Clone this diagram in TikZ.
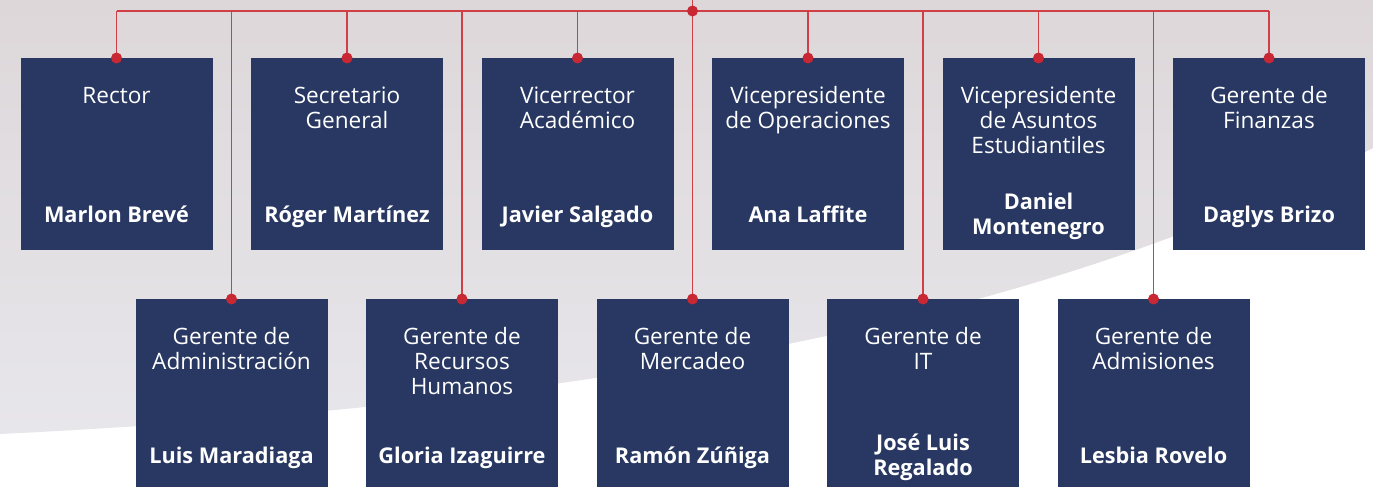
\documentclass[tikz,border=0pt]{standalone}
\usepackage{fontspec}
\setmainfont{Open Sans}
\definecolor{navy}{RGB}{40,56,98}
\definecolor{wirered}{RGB}{208,62,70}
\definecolor{dotred}{RGB}{200,40,52}
\definecolor{bgA}{RGB}{221,215,217}
\definecolor{bgB}{RGB}{231,230,235}
\newcommand{\topstrut}{\rule{0pt}{24pt}}
\newcommand{\hstrut}{\rule{0pt}{17.5pt}}
\newcommand{\dstrut}{\rule[-7.5pt]{0pt}{7.5pt}}
\tikzset{
  box/.style={fill=navy, draw=none, minimum width=192pt, minimum height=192pt, inner sep=0pt, anchor=north},
  title/.style={text=white, anchor=north, align=center, inner sep=0pt, font=\fontsize{22.6}{25}\selectfont},
  person/.style={text=white, anchor=center, align=center, inner sep=0pt, font=\fontsize{21.7}{24.5}\selectfont\bfseries},
  wire/.style={draw=wirered, line width=1.5pt},
  dotmark/.style={fill=dotred, draw=none, circle, minimum size=11pt, inner sep=0pt}
}
\begin{document}
\begin{tikzpicture}[x=1pt,y=-1pt]
\useasboundingbox (0,0) rectangle (1373,487);
\clip (0,0) rectangle (1373,487);
\fill[white] (0,0) rectangle (1373,487);
\shade[top color=bgA, bottom color=bgB] (0,0) -- (1373,0) -- (1373,148)
  .. controls (1100,290) and (700,400) .. (0,434) -- cycle;

% top row
\foreach \i/\x/\t/\n in {
  1/116.5/{Rector}/{Marlon Brevé},
  2/347/{Secretario\\General}/{Róger Martínez},
  3/577.5/{Vicerrector\\Académico}/{Javier Salgado},
  4/808/{Vicepresidente\\de Operaciones}/{Ana Laffite},
  5/1038.5/{Vicepresidente\\de Asuntos\\Estudiantiles}/{Daniel\\Montenegro},
  6/1269/{Gerente de\\Finanzas}/{Daglys Brizo}}{
  \node[box] (t\i) at (\x,58) {};
  \node[title] (tt\i) at ([yshift=-21pt]t\i.north) {\topstrut\t};
  \node[person] (tn\i) at ([yshift=-159pt]t\i.north) {\hstrut\n\dstrut};
}
% bottom row
\foreach \i/\x/\t/\n in {
  1/231.5/{Gerente de\\Administración}/{Luis Maradiaga},
  2/462/{Gerente de\\Recursos\\Humanos}/{Gloria Izaguirre},
  3/692.5/{Gerente de\\Mercadeo}/{Ramón Zúñiga},
  4/923/{Gerente de\\IT}/{José Luis\\Regalado},
  5/1153.5/{Gerente de\\Admisiones}/{Lesbia Rovelo}}{
  \node[box] (b\i) at (\x,299) {};
  \node[title] (bt\i) at ([yshift=-21pt]b\i.north) {\topstrut\t};
  \node[person] (bn\i) at ([yshift=-159pt]b\i.north) {\hstrut\n\dstrut};
}

\coordinate (root) at (692.5,11);
\coordinate (roottop) at (692.5,0);
\draw[wire] (t1.north |- root) -- (t6.north |- root);
\foreach \i in {1,...,6}{
  \draw[wire] (t\i.north |- root) -- (t\i.north);
}
\draw[wire] (roottop) -- (b3.north);
\foreach \i in {1,2,4,5}{
  \draw[wire] (b\i.north |- root) -- (b\i.north);
}
\foreach \i in {1,...,6}{ \node[dotmark] at (t\i.north) {}; }
\foreach \i in {1,...,5}{ \node[dotmark] at (b\i.north) {}; }
\node[dotmark] (rootdot) at (root) {};
\end{tikzpicture}
\end{document}
